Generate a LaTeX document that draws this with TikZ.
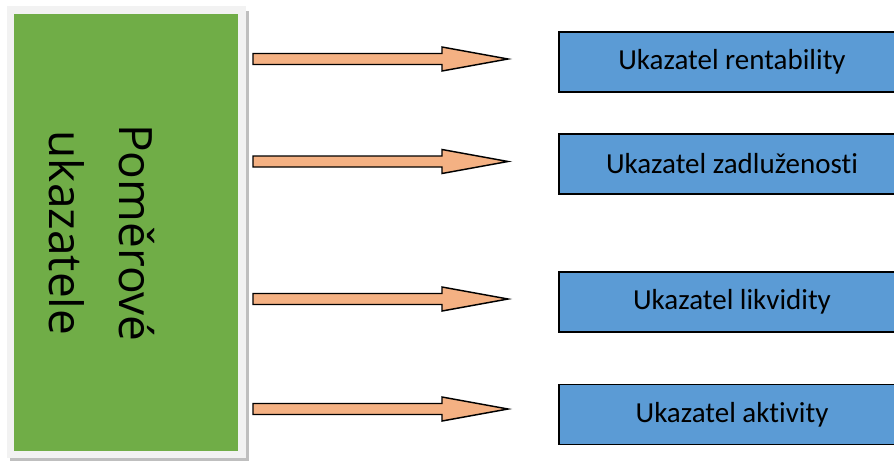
\documentclass[tikz,border=0pt]{standalone}
\usepackage{fontspec}
\setmainfont{Carlito}[Ligatures=NoCommon]
\newfontfamily\greenfont{Open Sans}
\usetikzlibrary{calc}
\definecolor{greenfill}{HTML}{70AD47}
\definecolor{bluefill}{HTML}{5B9BD5}
\definecolor{arrowfill}{HTML}{F4B183}
\definecolor{framegray}{HTML}{F2F2F2}
\definecolor{shadowgray}{HTML}{BFBFBF}
\begin{document}
\begin{tikzpicture}[x=0.75pt,y=-0.75pt,
  catbox/.style={draw=black,line width=1.1pt,fill=bluefill,minimum width=346*0.75pt,minimum height=60*0.75pt,inner sep=0pt,font=\fontsize{21.75}{26}\selectfont},
  blockarrow/.style={draw=black,line width=1.1pt,fill=arrowfill,line join=miter}]
\useasboundingbox (0,0) rectangle (894,461);
% left box with frame and shadow
\fill[shadowgray] (10,11) rectangle (249,461);
\fill[framegray] (7,6) rectangle (246,458);
\node[fill=greenfill,minimum width=224*0.75pt,minimum height=437*0.75pt,inner sep=0pt] (main) at (126,232.5) {};
\node[rotate=-90,align=center,inner sep=0pt,font=\greenfont\fontsize{34.5}{52.5}\selectfont] (maintext) at (102,233) {Poměrové\\ukazatele};
% category boxes
\node[catbox] (b1) at (732,62) {Ukazatel rentability};
\node[catbox] (b2) at (732,164) {Ukazatel zadluženosti};
\node[catbox] (b3) at (732,302) {Ukazatel likvidity};
\node[catbox] (b4) at (732,414.5) {Ukazatel aktivity};
% block arrows
\foreach \n/\yc in {1/59,2/161.5,3/299,4/409}{
  \coordinate (s\n) at (253,\yc);
  \coordinate (t\n) at (508,\yc);
  \draw[blockarrow] ($(s\n)+(0,-5.5)$) -- ($(s\n)+(189,-5.5)$) -- ($(s\n)+(189,-12)$) -- (t\n) -- ($(s\n)+(189,12)$) -- ($(s\n)+(189,5.5)$) -- ($(s\n)+(0,5.5)$) -- cycle;
}
\end{tikzpicture}
\end{document}
